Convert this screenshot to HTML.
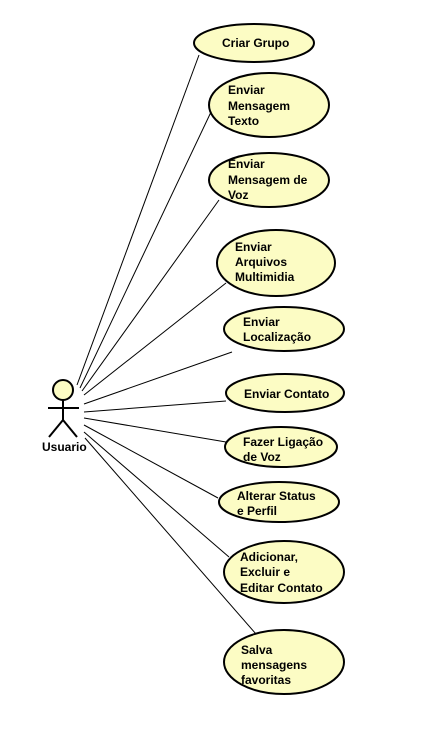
<!DOCTYPE html>
<html><head><meta charset="utf-8"><style>
html,body{margin:0;padding:0;background:#fff;width:436px;height:736px;overflow:hidden}
text{font-family:"Liberation Sans",Arial,sans-serif;font-weight:bold;font-size:12px;fill:#000}
</style></head><body>
<svg width="436" height="736" xmlns="http://www.w3.org/2000/svg">
<g stroke="#000" stroke-width="1" fill="none">
<line x1="77" y1="385" x2="199" y2="55"/>
<line x1="80" y1="388" x2="211" y2="112"/>
<line x1="82" y1="391" x2="219" y2="200"/>
<line x1="84" y1="395" x2="226" y2="283"/>
<line x1="84" y1="404" x2="232" y2="352"/>
<line x1="84" y1="412" x2="226" y2="401"/>
<line x1="84" y1="418" x2="226" y2="442"/>
<line x1="84" y1="425" x2="218" y2="498"/>
<line x1="84" y1="432" x2="229" y2="557"/>
<line x1="85" y1="438" x2="256" y2="634"/>
</g>
<g fill="#fcfcc4" stroke="#000" stroke-width="2">
<ellipse cx="254" cy="43" rx="60" ry="19"/>
<ellipse cx="269" cy="105" rx="60" ry="32"/>
<ellipse cx="269" cy="180" rx="60" ry="27"/>
<ellipse cx="276" cy="263" rx="59" ry="33"/>
<ellipse cx="284" cy="329" rx="60" ry="22"/>
<ellipse cx="285" cy="393" rx="59" ry="19"/>
<ellipse cx="281" cy="447" rx="56" ry="20"/>
<ellipse cx="279" cy="502" rx="60" ry="20"/>
<ellipse cx="284" cy="572" rx="60" ry="31"/>
<ellipse cx="284" cy="662" rx="60" ry="32"/>
<circle cx="63" cy="390" r="10"/>
</g>
<g stroke="#000" stroke-width="2" fill="none">
<line x1="63" y1="400" x2="63" y2="420"/>
<line x1="48" y1="408" x2="79" y2="408"/>
<line x1="63" y1="420" x2="49" y2="437"/>
<line x1="63" y1="420" x2="77" y2="437"/>
</g>
<text x="42" y="451">Usuario</text>
<text x="222" y="47">Criar Grupo</text>
<text x="228" y="94">Enviar</text><text x="228" y="110">Mensagem</text><text x="228" y="125">Texto</text>
<text x="228" y="168">Enviar</text><text x="228" y="184">Mensagem de</text><text x="228" y="199">Voz</text>
<text x="235" y="251">Enviar</text><text x="235" y="266">Arquivos</text><text x="235" y="281">Multimidia</text>
<text x="243" y="326">Enviar</text><text x="243" y="341">Localização</text>
<text x="244" y="398">Enviar Contato</text>
<text x="243" y="446">Fazer Ligação</text><text x="243" y="461">de Voz</text>
<text x="237" y="500">Alterar Status</text><text x="237" y="515">e Perfil</text>
<text x="240" y="561">Adicionar,</text><text x="240" y="576">Excluir e</text><text x="240" y="592">Editar Contato</text>
<text x="241" y="654">Salva</text><text x="241" y="669">mensagens</text><text x="241" y="684">favoritas</text>
</svg>
</body></html>
